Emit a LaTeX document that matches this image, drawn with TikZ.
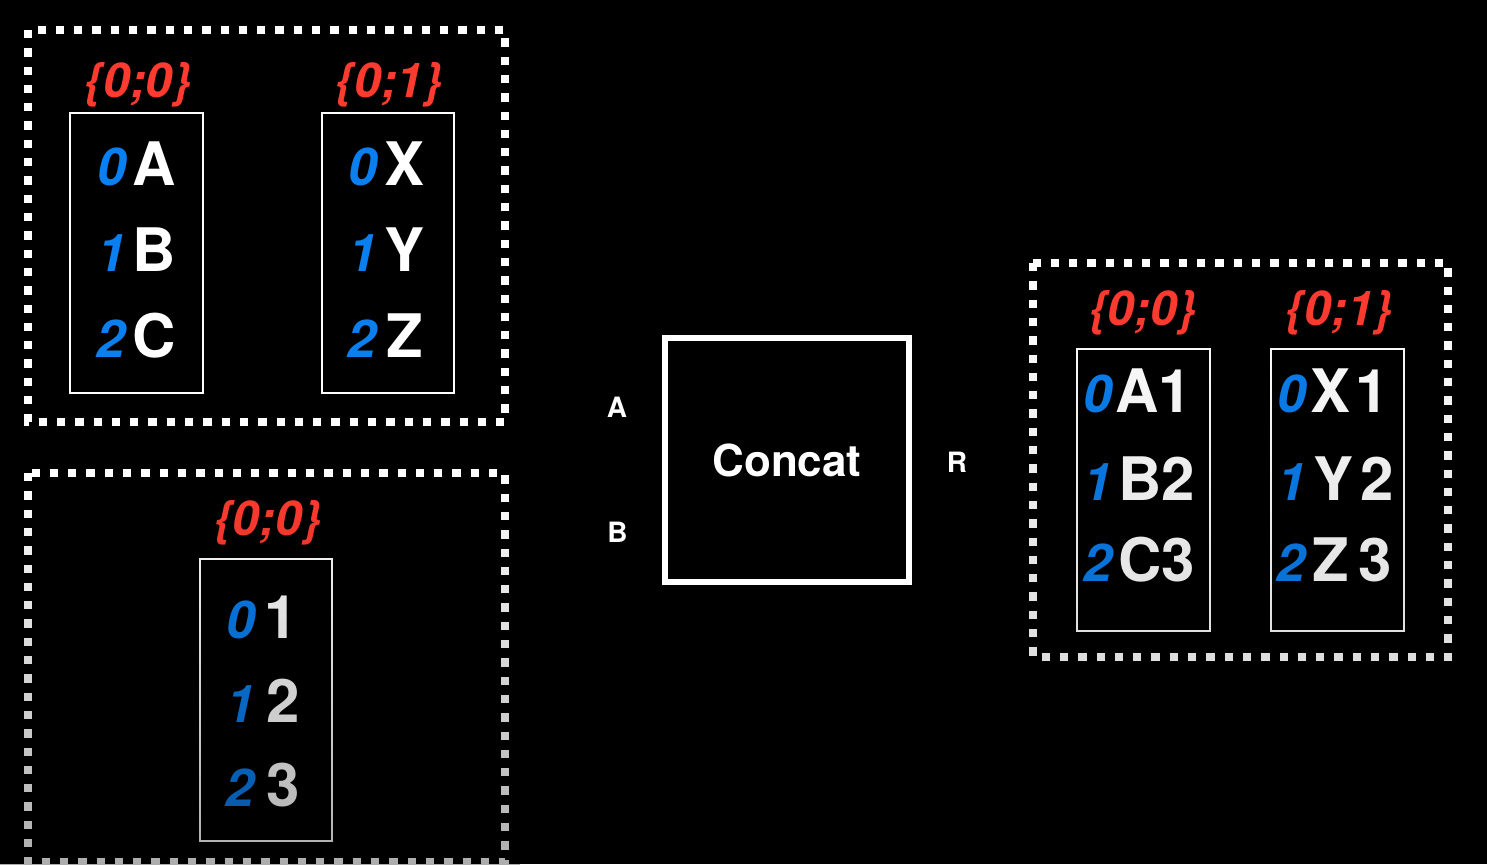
\documentclass[tikz,border=0pt]{standalone}
\usepackage{fontspec}
\setmainfont{TeX Gyre Heros}
\definecolor{labred}{HTML}{FF3B30}
\definecolor{idxblue}{HTML}{0A7FF0}
\tikzset{
  frame/.style={draw=white, line width=7.5pt, dash pattern=on 8.3pt off 10pt},
  colbox/.style={draw=white, line width=2pt},
  lbl/.style={text=labred, font=\fontsize{48}{48}\selectfont\bfseries\itshape, anchor=base, inner sep=0pt},
  idx/.style={text=idxblue, font=\fontsize{52}{52}\selectfont\bfseries\itshape, anchor=base, inner sep=0pt},
  val/.style={text=white, font=\fontsize{60}{60}\selectfont\bfseries, anchor=base, inner sep=0pt},
  port/.style={text=white, font=\fontsize{28}{28}\selectfont\bfseries, anchor=base, inner sep=0pt},
  opbox/.style={draw=white, line width=6pt, minimum width=244pt, minimum height=244pt, inner sep=0pt,
    text=white, font=\fontsize{44}{44}\selectfont\bfseries},
}
\begin{document}
\begin{tikzpicture}[x=1pt,y=-1pt]
\fill[black] (0,0) rectangle (1487,864);
\useasboundingbox (0,0) rectangle (1487,864);

% ---------- top-left group: A ----------
\draw[frame] (28,30) rectangle (505,422);
\draw[colbox] (70,113) rectangle (203,393);
\draw[colbox] (322,113) rectangle (454,393);
\node[lbl] (la1) at (138,98) {\{0;0\}};
\node[lbl] (la2) at (389,98) {\{0;1\}};
\node[idx] (a0) at (112,185) {0};
\node[idx] (a1) at (112,271) {1};
\node[idx] (a2) at (111,357) {2};
\node[val] (va0) at (154,185) {A};
\node[val] (va1) at (154,271) {B};
\node[val] (va2) at (154,357) {C};
\node[idx] (b0) at (363,185) {0};
\node[idx] (b1) at (363,271) {1};
\node[idx] (b2) at (362,357) {2};
\node[val] (vb0) at (405,185) {X};
\node[val] (vb1) at (405,271) {Y};
\node[val] (vb2) at (405,357) {Z};

% ---------- bottom-left group: B ----------
\draw[frame] (28,473) rectangle (505,862);
\draw[colbox] (200,559) rectangle (332,841);
\node[lbl] (lb) at (267.5,535) {\{0;0\}};
\node[idx] (c0) at (241,638) {0};
\node[idx] (c1) at (241,722) {1};
\node[idx] (c2) at (240,806) {2};
\node[val] (vc0) at (281,638) {1};
\node[val] (vc1) at (283,722) {2};
\node[val] (vc2) at (283,806) {3};
\foreach \i in {0,...,39} {
  \pgfmathsetmacro\op{0.32*\i/39}
  \fill[black, opacity=\op] (0,{470+\i*10}) rectangle (520,{480+\i*10});
}

% ---------- operator ----------
\node[opbox] (concat) at (787,460) {Concat};
\node[port] (pa) at (617,417) {A};
\node[port] (pb) at (617.5,542) {B};
\node[port] (pr) at (957,472) {R};

% ---------- right group: R ----------
\draw[frame] (1033,263) rectangle (1448,657);
\draw[colbox] (1077,349) rectangle (1210,631);
\draw[colbox] (1271,349) rectangle (1404,631);
\node[lbl] (lr1) at (1142.5,325) {\{0;0\}};
\node[lbl] (lr2) at (1339,325) {\{0;1\}};
\node[idx] (d0) at (1098,412) {0};
\node[idx] (d1) at (1097.5,500) {1};
\node[idx] (d2) at (1097.5,581) {2};
\node[val] (vd0) at (1154,412) {A1};
\node[val] (vd1) at (1157,500) {B2};
\node[val] (vd2) at (1157,581) {C3};
\node[idx] (e0) at (1292,412) {0};
\node[idx] (e1) at (1292,500) {1};
\node[idx] (e2) at (1290.5,581) {2};
\node[val] (ve0) at (1350,412) {X\kern5pt 1};
\node[val] (ve1) at (1354,500) {Y\kern7pt 2};
\node[val] (ve2) at (1352,581) {Z\kern9pt 3};
\foreach \i in {0,...,39} {
  \pgfmathsetmacro\op{0.13*\i/39}
  \fill[black, opacity=\op] (1020,{263+\i*10}) rectangle (1460,{273+\i*10});
}
\end{tikzpicture}
\end{document}
